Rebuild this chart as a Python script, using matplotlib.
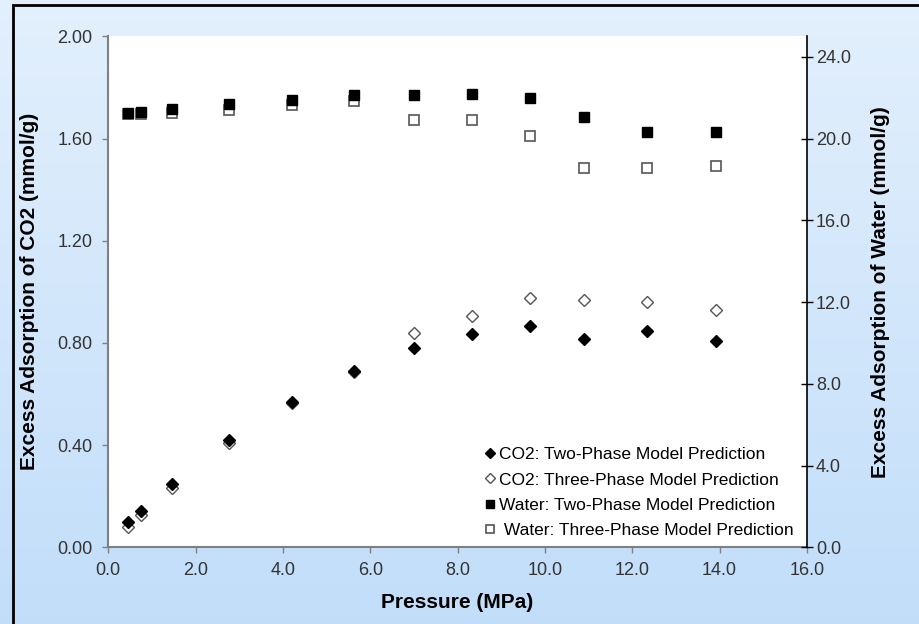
import matplotlib.pyplot as plt
import numpy as np
from matplotlib.patches import Rectangle

plt.rcParams['font.family'] = ['Liberation Sans', 'DejaVu Sans']

# pressure (MPa)
pressure = [0.46, 0.75, 1.45, 2.76, 4.2, 5.63, 7.0, 8.34, 9.66, 10.9, 12.33, 13.92]

# excess adsorption of CO2 (mmol/g)
co2_two = [0.098, 0.143, 0.248, 0.42, 0.569, 0.689, 0.781, 0.835, 0.865, 0.815, 0.847, 0.809]
co2_three = [0.078, 0.125, 0.231, 0.407, 0.566, 0.687, 0.839, 0.905, 0.975, 0.968, 0.961, 0.928]

# excess adsorption of water (mmol/g)
water_two = [21.26, 21.3, 21.43, 21.67, 21.88, 22.13, 22.13, 22.19, 21.98, 21.05, 20.32, 20.32]
water_three = [21.18, 21.2, 21.25, 21.38, 21.62, 21.82, 20.89, 20.89, 20.14, 18.57, 18.57, 18.65]

fig = plt.figure(figsize=(9.2, 6.24), dpi=100)

# light blue gradient background
bg = fig.add_axes([0, 0, 1, 1], zorder=-10)
grad = np.linspace(0, 1, 256).reshape(-1, 1)
top_c = np.array([0.89, 0.94, 0.99])
bot_c = np.array([0.76, 0.87, 0.98])
img = top_c * (1 - grad[..., None]) + bot_c * grad[..., None]
img = np.repeat(img, 2, axis=1)
bg.imshow(img, aspect='auto', extent=[0, 1, 0, 1])
bg.set_xlim(0, 1)
bg.set_ylim(0, 1)
bg.axis('off')
bg.add_patch(Rectangle((13 / 920, -0.1), 1.2, 1.1 - 5 / 624, fill=False,
                       edgecolor='black', linewidth=2))

ax = fig.add_axes([0.1177, 0.1229, 0.7594, 0.8189])
ax.set_facecolor('white')
ax2 = ax.twinx()

h1, = ax.plot(pressure, co2_two, 'D', ms=6, mfc='black', mec='black', ls='none',
              label='CO2: Two-Phase Model Prediction')
h2, = ax.plot(pressure, co2_three, 'D', ms=6, mfc='white', mec='#555555', mew=1.0, ls='none',
              label='CO2: Three-Phase Model Prediction', zorder=1.5)
h4, = ax2.plot(pressure, water_three, 's', ms=7.5, mfc='white', mec='#555555', mew=1.2, ls='none',
               label=' Water: Three-Phase Model Prediction')
h3, = ax2.plot(pressure, water_two, 's', ms=7.5, mfc='black', mec='black', ls='none',
               label='Water: Two-Phase Model Prediction')

ax.set_xlim(0, 16)
ax.set_ylim(0, 2)
ax2.set_ylim(0, 25)
ax.set_xticks(np.arange(0, 16.1, 2))
ax.set_xticklabels(['%.1f' % v for v in np.arange(0, 16.1, 2)])
ax.set_yticks(np.arange(0, 2.01, 0.4))
ax.set_yticklabels(['%.2f' % v for v in np.arange(0, 2.01, 0.4)])
ax2.set_yticks(np.arange(0, 24.1, 4))
ax2.set_yticklabels(['%.1f' % v for v in np.arange(0, 24.1, 4)])

for a in (ax, ax2):
    a.spines['top'].set_visible(False)
ax.spines['left'].set_color('#808080')
ax.spines['bottom'].set_color('#808080')
ax.spines['right'].set_visible(False)
ax2.spines['left'].set_visible(False)
ax2.spines['bottom'].set_visible(False)
ax2.spines['right'].set_color('black')
for s in ('left', 'bottom'):
    ax.spines[s].set_linewidth(1.5)
ax2.spines['right'].set_linewidth(1.2)

ax.tick_params(axis='y', direction='out', length=4.5, width=1, color='#808080',
               labelsize=13, labelcolor='#333333', pad=7)
ax.tick_params(axis='x', direction='out', length=4.5, width=1, color='#808080',
               labelsize=13, labelcolor='#333333', pad=6)
ax2.tick_params(axis='y', direction='inout', length=9, width=1, color='black',
                labelsize=13, labelcolor='#333333', pad=2)

ax.set_xlabel('Pressure (MPa)', fontsize=15, fontweight='bold', labelpad=10)
ax.set_ylabel('Excess Adsorption of CO2 (mmol/g)', fontsize=15, fontweight='bold', labelpad=13)
ax2.set_ylabel('Excess Adsorption of Water (mmol/g)', fontsize=15, fontweight='bold', labelpad=14)

leg = ax.legend(handles=[h1, h2, h3, h4], loc='lower left', frameon=False, fontsize=12.5,
                handlelength=0.6, handletextpad=0.2, labelspacing=0.58, markerscale=0.8,
                borderaxespad=0, borderpad=0)
leg.set_bbox_to_anchor((485 / 920, 1 - 538 / 624), transform=fig.transFigure)
leg.set_zorder(5)

fig.savefig('out.png', dpi=100)
